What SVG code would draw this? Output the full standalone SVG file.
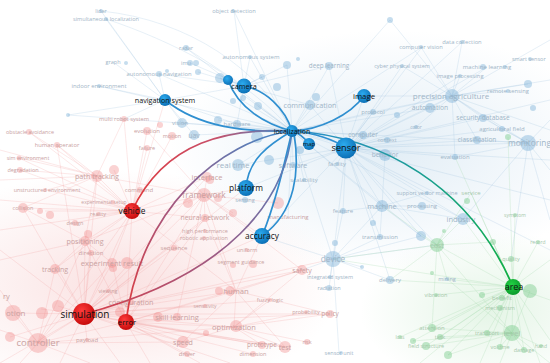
<svg xmlns="http://www.w3.org/2000/svg" width="550" height="363" viewBox="0 0 550 363">
<defs>
<style>
text{font-family:"Open Sans","DejaVu Sans",sans-serif;text-anchor:middle}
.lr{fill:none;stroke:#f2a2a2;stroke-width:.5;stroke-opacity:.5}
.lb{fill:none;stroke:#9fc4de;stroke-width:.5;stroke-opacity:.5}
.lg{fill:none;stroke:#a6dab0;stroke-width:.5;stroke-opacity:.55}
.nr circle{fill:#f07a7a;fill-opacity:.33}
.nb circle{fill:#6aa6d2;fill-opacity:.38}
.ng circle{fill:#70c982;fill-opacity:.42}
.nr text{fill:#c9a2a2}
.nb text{fill:#9fb5c7}
.ng text{fill:#a6c8ab}
.hb{fill:url(#gB)}
.hr{fill:url(#gR)}
.hg{fill:url(#gG)}
.main text{fill:#111}
.eb{fill:none;stroke:#2f8fd0;stroke-width:1.7}
</style>
<radialGradient id="gB" cx=".4" cy=".35" r=".7"><stop offset="0" stop-color="#2cabef"/><stop offset="1" stop-color="#0a6cb2"/></radialGradient>
<radialGradient id="gR" cx=".4" cy=".35" r=".7"><stop offset="0" stop-color="#ff3c3c"/><stop offset="1" stop-color="#c30808"/></radialGradient>
<radialGradient id="gG" cx=".4" cy=".35" r=".7"><stop offset="0" stop-color="#22d244"/><stop offset="1" stop-color="#08972a"/></radialGradient>
<radialGradient id="tP"><stop offset="0" stop-color="#f6c9c9" stop-opacity=".55"/><stop offset="1" stop-color="#f6c9c9" stop-opacity="0"/></radialGradient>
<radialGradient id="tB"><stop offset="0" stop-color="#cfe2f0" stop-opacity=".6"/><stop offset="1" stop-color="#cfe2f0" stop-opacity="0"/></radialGradient>
<radialGradient id="tG"><stop offset="0" stop-color="#d3eed6" stop-opacity=".6"/><stop offset="1" stop-color="#d3eed6" stop-opacity="0"/></radialGradient>
<linearGradient id="eVeh" gradientUnits="userSpaceOnUse" x1="132" y1="211" x2="292" y2="131"><stop offset="0" stop-color="#e03a3c"/><stop offset=".6" stop-color="#c8506a"/><stop offset="1" stop-color="#3d8acb"/></linearGradient>
<linearGradient id="eErr" gradientUnits="userSpaceOnUse" x1="126" y1="322" x2="292" y2="131"><stop offset="0" stop-color="#e03a3c"/><stop offset=".5" stop-color="#a05a84"/><stop offset="1" stop-color="#3d8acb"/></linearGradient>
<linearGradient id="eSim" gradientUnits="userSpaceOnUse" x1="84" y1="314" x2="292" y2="131"><stop offset="0" stop-color="#d8404a"/><stop offset=".5" stop-color="#9c5a84"/><stop offset="1" stop-color="#4a84c4"/></linearGradient>
<linearGradient id="eArea" gradientUnits="userSpaceOnUse" x1="292" y1="131" x2="513" y2="287"><stop offset="0" stop-color="#2c8dcd"/><stop offset=".5" stop-color="#1a9f90"/><stop offset="1" stop-color="#10b040"/></linearGradient>
</defs>
<rect width="550" height="363" fill="#fff"/>
<g id="tints">
<ellipse cx="120" cy="285" rx="220" ry="115" fill="url(#tP)"/>
<ellipse cx="390" cy="150" rx="220" ry="120" fill="url(#tB)"/>
<ellipse cx="490" cy="310" rx="130" ry="80" fill="url(#tG)"/>
</g>
<g id="background-links">
<path class="lr" d="M84 314L38 343M84 314L126 322M84 314L132 211M84 314L97 176M84 314L85 241M84 314L112 263M84 314L55 269M84 314L236 291M84 314L234 327M84 314L183 342M84 314L285 347M84 314L302 270M84 314L13 313M84 314L131 302M84 314L177 317M84 314L262 345M84 314L204 195M84 314L205 218M84 314L0 363M84 314L0 250M84 314L120 363M84 314L60 363M84 314L230 363M84 314L330 314M84 314L207 177M84 314L23 208M84 314L57 145M84 314L246 188M84 314L262 236M84 314L333 259M84 314L41 309M84 314L58 306M84 314L10 337M84 314L87 340M84 314L108 291M84 314L174 248M84 314L91 253M84 314L205 306M84 314L270 300
M38 343L126 322M38 343L85 241M38 343L55 269M38 343L0 290M38 343L0 330M38 343L13 313M38 343L112 263M38 343L183 342M38 343L132 211M38 343L234 327M38 343L90 363M38 343L20 363
M126 322L132 211M126 322L236 291M126 322L234 327M126 322L183 342M126 322L85 241M126 322L112 263M126 322L177 317M126 322L285 347M126 322L302 270M126 322L204 195M126 322L205 218M126 322L262 345M126 322L150 363M126 322L200 363M126 322L253 354M126 322L187 354M126 322L330 314
M132 211L97 176M132 211L114 170M132 211L57 145M132 211L29 132M132 211L124 119M132 211L147 131M132 211L172 136M132 211L23 208M132 211L20 170M132 211L19 158M132 211L85 241M132 211L55 269M132 211L204 195M132 211L205 218M132 211L207 177M132 211L112 263M132 211L140 190M132 211L104 202M132 211L75 223M132 211L236 291M132 211L165 100M132 211L47 190M132 211L98 214M132 211L45 211M132 211L147 148M132 211L0 200M132 211L0 230
M204 195L205 218M204 195L207 177M204 195L236 291M204 195L85 241M204 195L97 176M204 195L246 188M204 195L262 236M204 195L302 270M204 195L177 317M204 195L278 203M204 195L233 213M204 195L188 203M204 195L147 131
M234 327L285 347M234 327L302 270M234 327L330 314M234 327L262 345M234 327L183 342M234 327L236 291M234 327L270 300M234 327L306 312M234 327L307 342
M97 176L29 132M97 176L57 145M97 176L20 170M97 176L19 158M97 176L124 119M97 176L85 241M97 176L47 190M97 176L23 208M97 176L0 180M97 176L0 150
M236 291L302 270M236 291L285 347M236 291L262 236M236 291L205 218M236 291L183 342M236 291L330 314M85 241L55 269M85 241L112 263M85 241L23 208M85 241L0 260M85 241L91 253"/>
<path class="lb" d="M292 131L346 148M292 131L333 259M292 131L382 206M292 131L463 219M292 131L452 96M292 131L430 108M292 131L310 105M292 131L329 66M292 131L390 20M292 131L422 47M292 131L237 124M292 131L238 165M292 131L182 123M292 131L194 135M292 131L159 74M292 131L186 48M292 131L99 86M292 131L234 11M292 131L250 57M292 131L528 143M292 131L385 155M292 131L363 135M292 131L421 236M292 131L293 165M292 131L304 180M292 131L288 217M292 131L373 112M292 131L287 65M292 131L220 78M292 131L258 106M292 131L240 99M292 131L218 120M292 131L68 115
M346 148L364 96M346 148L452 96M346 148L430 108M346 148L528 143M346 148L483 118M346 148L502 129M346 148L463 219M346 148L382 206M346 148L421 236M346 148L333 259M346 148L385 155M346 148L363 135M346 148L455 157M346 148L477 140M346 148L310 105M346 148L329 66M346 148L422 47M346 148L462 42M346 148L487 67M346 148L460 76M346 148L550 100M346 148L550 160M346 148L550 200M346 148L246 188M346 148L262 236M346 148L293 165M346 148L337 164M346 148L343 211M346 148L402 66M346 148L437 245M346 148L380 237M346 148L390 280M346 148L238 165M346 148L373 112M346 148L416 127M346 148L550 250M346 148L427 193
M452 96L430 108M452 96L483 118M452 96L502 129M452 96L528 143M452 96L460 76M452 96L487 67M452 96L508 91M452 96L528 84M452 96L550 80M452 96L550 130M452 96L477 140M452 96L455 157M452 96L462 42M452 96L421 47M452 96L390 20M452 96L364 96M452 96L402 66M452 96L373 112M452 96L416 127M452 96L550 40
M528 143L550 120M528 143L550 170M528 143L502 129M528 143L483 118M528 143L477 140M528 143L463 219M528 143L511 259M528 143L455 157M528 143L550 220
M244 86L228 80M244 86L250 57M244 86L262 77M244 86L287 65M244 86L220 78M244 86L186 48M244 86L159 74M244 86L190 63M244 86L165 100M244 86L237 124M244 86L310 105M244 86L329 66M244 86L234 11M244 86L198 72
M165 100L99 86M165 100L159 74M165 100L182 123M165 100L194 135M165 100L237 124M165 100L124 119M165 100L106 19M165 100L101 11M165 100L68 115M165 100L113 62
M333 259L382 206M333 259L380 237M333 259L390 280M333 259L329 288M333 259L330 277M333 259L302 270M333 259L262 236M333 259L421 236M333 259L437 245M333 259L339 353M333 259L343 211M333 259L362 267
M382 206L422 206M382 206L463 219M382 206L421 236M382 206L343 211M382 206L427 193M382 206L380 237M382 206L385 155
M106 19C170 40 250 80 292 131M101 11C190 20 260 70 292 131"/>
<path class="lg" d="M513 287L512 333M513 287L530 291M513 287L502 298M513 287L500 308M513 287L487 333M513 287L432 328M513 287L440 337M513 287L426 346M513 287L524 350M513 287L500 347M513 287L511 259M513 287L493 242M513 287L538 242M513 287L515 215M513 287L437 245M513 287L447 279M513 287L436 295M513 287L390 280M513 287L550 260M513 287L550 300M513 287L550 340M513 287L540 363M513 287L480 363M513 287L420 363M513 287L463 219M513 287L471 193M513 287L333 259M513 287L400 337M513 287L455 157M513 287L508 137M513 287L413 341M513 287L448 355M513 287L482 295
M512 333L487 333M512 333L500 347M512 333L524 350M512 333L541 346M512 333L432 328M512 333L440 337M512 333L426 346M512 333L530 291M512 333L550 363M512 333L500 363M512 333L437 245M512 333L447 279M512 333L413 341M512 333L448 355
M437 245L463 219M437 245L421 236M437 245L447 279M437 245L390 280M437 245L432 328M437 245L471 193M437 245L382 206M437 245L333 259M437 245L444 231M437 245L493 242"/>
</g>
<g id="background-nodes">
<g id="n-controller" class="nr"><circle cx="38" cy="343" r="10"/><text x="38" y="346.3" font-size="9.5">controller</text></g>
<g id="n-path-tracking" class="nr"><circle cx="97" cy="176" r="6"/><circle cx="114" cy="170" r="5"/><text x="97" y="178.5" font-size="7.2">path tracking</text></g>
<g id="n-framework" class="nr"><circle cx="204" cy="195" r="7"/><circle cx="188" cy="203" r="5"/><circle cx="218" cy="198" r="4"/><circle cx="233" cy="213" r="4"/><circle cx="210" cy="180" r="4"/><text x="204" y="198" font-size="8.5">framework</text></g>
<g id="n-neural-network" class="nr"><circle cx="205" cy="218" r="4"/><text x="205" y="220.4" font-size="6.9">neural network</text></g>
<g id="n-positioning" class="nr"><circle cx="85" cy="241" r="5"/><circle cx="88" cy="234" r="4"/><text x="85" y="243.5" font-size="7.2">positioning</text></g>
<g id="n-experiment-result" class="nr"><circle cx="112" cy="263" r="5"/><circle cx="127" cy="263" r="6"/><circle cx="113" cy="268" r="4"/><text x="112" y="265.6" font-size="7.5">experiment result</text></g>
<g id="n-tracking" class="nr"><circle cx="55" cy="269" r="5"/><text x="55" y="271.5" font-size="7">tracking</text></g>
<g id="n-human" class="nr"><circle cx="230" cy="291" r="5"/><circle cx="219" cy="291" r="4"/><text x="236" y="293.7" font-size="7.7">human</text></g>
<g id="n-optimization" class="nr"><circle cx="236" cy="326" r="6"/><circle cx="206" cy="333" r="3"/><text x="234" y="329.6" font-size="7.5">optimization</text></g>
<g id="n-speed" class="nr"><circle cx="183" cy="342" r="6"/><text x="183" y="344.5" font-size="7">speed</text></g>
<g id="n-test" class="nr"><circle cx="285" cy="347" r="6"/><text x="285" y="349.5" font-size="7">test</text></g>
<g id="n-safety" class="nr"><circle cx="302" cy="270" r="5"/><text x="302" y="272.5" font-size="7">safety</text></g>
<g id="n-policy" class="nr"><circle cx="330" cy="314" r="4"/><text x="330" y="316.3" font-size="6.5">policy</text></g>
<g id="n-configuration" class="nr"><circle cx="131" cy="302" r="3"/><circle cx="120" cy="312" r="5"/><text x="131" y="304.5" font-size="7.2">configuration</text></g>
<g id="n-skill-learning" class="nr"><circle cx="177" cy="317" r="4"/><circle cx="158" cy="317" r="5"/><text x="177" y="319.6" font-size="7.5">skill learning</text></g>
<g id="n-prototype" class="nr"><circle cx="262" cy="345" r="4"/><text x="262" y="347.3" font-size="6.5">prototype</text></g>
<g id="n-interface" class="nr"><circle cx="207" cy="177" r="5"/><text x="207" y="179.6" font-size="7.5">interface</text></g>
<g id="n-otion" class="nr"><circle cx="13" cy="313" r="8"/><circle cx="42" cy="313" r="6"/><circle cx="58" cy="306" r="6"/><circle cx="10" cy="337" r="5"/><text x="6" y="316" font-size="8" style="text-anchor:start">otion</text></g>
<g id="n-ry" class="nr"><text x="3" y="298.6" font-size="7.5" style="text-anchor:start">ry</text></g>
<g id="n-multi-robot-system" class="nr"><circle cx="124" cy="119" r="3"/><text x="124" y="121" font-size="5.7">multi robot system</text></g>
<g id="n-obstacle-avoidance" class="nr"><circle cx="29" cy="132" r="3"/><text x="30" y="134" font-size="5.4">obstacle avoidance</text></g>
<g id="n-evolution" class="nr"><circle cx="147" cy="131" r="4"/><circle cx="160" cy="125" r="3"/><text x="147" y="133" font-size="6">evolution</text></g>
<g id="n-motion" class="nr"><circle cx="172" cy="136" r="4"/><text x="172" y="138" font-size="5.5">motion</text></g>
<g id="n-human-operator" class="nr"><circle cx="57" cy="145" r="3"/><text x="57" y="147" font-size="5.8">human operator</text></g>
<g id="n-failure" class="nr"><circle cx="147" cy="148" r="3"/><text x="147" y="150" font-size="5.5">failure</text></g>
<g id="n-sim-environment" class="nr"><circle cx="19" cy="158" r="2.5"/><text x="28" y="160" font-size="5.4">sim environment</text></g>
<g id="n-degradation" class="nr"><circle cx="20" cy="170" r="3"/><text x="23" y="172" font-size="5.5">degradation</text></g>
<g id="n-unstructured-environment" class="nr"><circle cx="45" cy="190" r="2"/><text x="47" y="192" font-size="5.4">unstructured environment</text></g>
<g id="n-command" class="nr"><circle cx="140" cy="190" r="3"/><text x="139" y="192" font-size="6">command</text></g>
<g id="n-experimental-setup" class="nr"><circle cx="113" cy="202" r="2"/><text x="104" y="204" font-size="5">experimental setup</text></g>
<g id="n-collision" class="nr"><circle cx="23" cy="208" r="5"/><circle cx="40" cy="211" r="3"/><circle cx="50" cy="215" r="4"/><text x="23" y="210" font-size="5.5">collision</text></g>
<g id="n-reality" class="nr"><circle cx="98" cy="214" r="2"/><text x="98" y="216" font-size="5.5">reality</text></g>
<g id="n-design" class="nr"><circle cx="75" cy="223" r="3"/><text x="75" y="225" font-size="5.5">design</text></g>
<g id="n-sequence" class="nr"><circle cx="174" cy="248" r="3"/><text x="174" y="250" font-size="6">sequence</text></g>
<g id="n-direction" class="nr"><circle cx="91" cy="253" r="3"/><text x="91" y="255" font-size="6">direction</text></g>
<g id="n-high-performance" class="nr"><circle cx="205" cy="231" r="2"/><text x="205" y="233" font-size="5.5">high performance</text></g>
<g id="n-robotic-application" class="nr"><circle cx="204" cy="238" r="2"/><text x="204" y="240" font-size="5.5">robotic application</text></g>
<g id="n-viewing" class="nr"><circle cx="108" cy="291" r="2"/><text x="108" y="293" font-size="5.5">viewing</text></g>
<g id="n-sensitivity" class="nr"><circle cx="205" cy="306" r="2"/><text x="205" y="308" font-size="5">sensitivity</text></g>
<g id="n-payload" class="nr"><circle cx="87" cy="340" r="2"/><text x="87" y="342" font-size="6">payload</text></g>
<g id="n-driver" class="nr"><circle cx="187" cy="354" r="3"/><text x="187" y="356" font-size="6">driver</text></g>
<g id="n-dimension" class="nr"><circle cx="253" cy="354" r="3"/><text x="253" y="356" font-size="5.5">dimension</text></g>
<g id="n-uniform" class="nr"><circle cx="247" cy="250" r="2"/><text x="247" y="252" font-size="5.5">uniform</text></g>
<g id="n-segment-guidance" class="nr"><circle cx="253" cy="264" r="4"/><circle cx="233" cy="265" r="3"/><text x="241" y="264" font-size="5.5">segment guidance</text></g>
<g id="n-manufacturing" class="nr"><circle cx="278" cy="203" r="6"/><text x="288" y="219" font-size="6">manufacturing</text></g>
<g id="n-fuzzy-logic" class="nr"><circle cx="270" cy="300" r="2"/><text x="270" y="302" font-size="5.5">fuzzy logic</text></g>
<g id="n-probability" class="nr"><circle cx="306" cy="312" r="2"/><text x="306" y="314" font-size="5.5">probability</text></g>
<g id="n-risk" class="nr"><circle cx="307" cy="342" r="3"/><text x="307" y="344" font-size="5.5">risk</text></g>
<g id="n-communication" class="nb"><circle cx="310" cy="105" r="5"/><circle cx="316" cy="97" r="4"/><text x="310" y="107.5" font-size="7.3">communication</text></g>
<g id="n-deep-learning" class="nb"><circle cx="329" cy="66" r="4"/><circle cx="287" cy="65" r="4"/><circle cx="298" cy="59" r="2"/><text x="329" y="68.2" font-size="6.3">deep learning</text></g>
<g id="n-precision-agriculture" class="nb"><circle cx="452" cy="96" r="7"/><text x="451" y="98.8" font-size="8">precision agriculture</text></g>
<g id="n-automation" class="nb"><circle cx="430" cy="108" r="5"/><text x="430" y="110.3" font-size="6.7">automation</text></g>
<g id="n-monitoring" class="nb"><circle cx="528" cy="143" r="8"/><text x="508" y="146" font-size="8.3" style="text-anchor:start">monitoring</text></g>
<g id="n-machine" class="nb"><circle cx="382" cy="206" r="6"/><text x="382" y="208.6" font-size="7.4">machine</text></g>
<g id="n-processing" class="nb"><circle cx="422" cy="206" r="4"/><text x="422" y="208" font-size="6">processing</text></g>
<g id="n-industry" class="nb"><circle cx="463" cy="219" r="6"/><text x="461" y="221.6" font-size="7.5">industry</text></g>
<g id="n-device" class="nb"><circle cx="333" cy="259" r="8"/><text x="333" y="261.9" font-size="8.2">device</text></g>
<g id="n-hardware" class="nb"><circle cx="237" cy="124" r="4"/><text x="237" y="126" font-size="6">hardware</text></g>
<g id="n-real-time" class="nb"><circle cx="238" cy="165" r="6"/><text x="233" y="167.8" font-size="8">real time</text></g>
<g id="n-software" class="nb"><circle cx="293" cy="165" r="3"/><text x="293" y="167.5" font-size="7">software</text></g>
<g id="n-scalability" class="nb"><circle cx="304" cy="180" r="2"/><text x="304" y="182" font-size="6">scalability</text></g>
<g id="n-uav" class="nb"><circle cx="194" cy="135" r="5"/><text x="194" y="137.5" font-size="7">uav</text></g>
<g id="n-vision" class="nb"><circle cx="182" cy="123" r="5"/><text x="180" y="125" font-size="6">vision</text></g>
<g id="n-sensing" class="nb"><circle cx="245" cy="200" r="3"/><text x="245" y="202" font-size="5.5">sensing</text></g>
<g id="n-simultaneous-localization" class="nb"><circle cx="106" cy="19" r="2"/><text x="106" y="21" font-size="5.6">simultaneous localization</text></g>
<g id="n-lidar" class="nb"><circle cx="101" cy="11" r="2"/><text x="101" y="13" font-size="5.5">lidar</text></g>
<g id="n-object-detection" class="nb"><circle cx="233" cy="11" r="2"/><text x="234" y="13" font-size="5.8">object detection</text></g>
<g id="n-radar" class="nb"><circle cx="186" cy="48" r="3"/><text x="186" y="50" font-size="5.5">radar</text></g>
<g id="n-graph" class="nb"><circle cx="126" cy="63" r="2"/><text x="113" y="64" font-size="5.5">graph</text></g>
<g id="n-imu" class="nb"><circle cx="190" cy="63" r="3"/><circle cx="196" cy="63" r="3"/><circle cx="198" cy="72" r="3"/><text x="186" y="65" font-size="5.5">imu</text></g>
<g id="n-autonomous-navigation" class="nb"><circle cx="159" cy="74" r="3"/><circle cx="167" cy="71" r="2"/><text x="159" y="76" font-size="5.9">autonomous navigation</text></g>
<g id="n-autonomous-system" class="nb"><circle cx="250" cy="57" r="2"/><text x="251" y="59" font-size="6">autonomous system</text></g>
<g id="n-indoor-environment" class="nb"><circle cx="99" cy="86" r="2"/><text x="99" y="88" font-size="5.9">indoor environment</text></g>
<g id="n-misc-blue" class="nb"><circle cx="68" cy="115" r="2"/><circle cx="220" cy="78" r="5"/><circle cx="243" cy="98" r="3"/><circle cx="233" cy="101" r="3"/><circle cx="218" cy="120" r="4"/><circle cx="258" cy="106" r="4"/><circle cx="262" cy="77" r="3"/><circle cx="257" cy="137" r="6"/><circle cx="277" cy="87" r="4"/><circle cx="390" cy="20" r="3"/><circle cx="528" cy="84" r="4"/><circle cx="533" cy="108" r="3"/><circle cx="421" cy="236" r="5"/><circle cx="335" cy="243" r="3"/><circle cx="373" cy="223" r="3"/><circle cx="362" cy="267" r="2"/><circle cx="397" cy="115" r="3"/><circle cx="269" cy="160" r="5"/><circle cx="300" cy="150" r="4"/></g>
<g id="n-data-collection" class="nb"><circle cx="462" cy="42" r="2"/><text x="462" y="44" font-size="5.8">data collection</text></g>
<g id="n-computer-vision" class="nb"><circle cx="421" cy="47" r="2"/><text x="421" y="49" font-size="5.8">computer vision</text></g>
<g id="n-cyber-physical-system" class="nb"><circle cx="402" cy="66" r="2"/><text x="402" y="68" font-size="5.5">cyber physical system</text></g>
<g id="n-machine-learning" class="nb"><circle cx="483" cy="67" r="3"/><circle cx="505" cy="67" r="2"/><text x="487" y="69" font-size="6">machine learning</text></g>
<g id="n-image-processing" class="nb"><circle cx="460" cy="76" r="2"/><text x="460" y="78" font-size="5.8">image processing</text></g>
<g id="n-remote-sensing" class="nb"><circle cx="508" cy="91" r="2"/><text x="508" y="93" font-size="5.8">remote sensing</text></g>
<g id="n-smart-sensor" class="nb"><circle cx="530" cy="59" r="2"/><text x="512" y="61" font-size="5.5" style="text-anchor:start">smart sensor</text></g>
<g id="n-protocol" class="nb"><circle cx="373" cy="112" r="3"/><text x="373" y="114" font-size="6">protocol</text></g>
<g id="n-security-database" class="nb"><circle cx="483" cy="118" r="4"/><text x="483" y="120.3" font-size="6.5">security database</text></g>
<g id="n-agricultural-field" class="nb"><circle cx="502" cy="129" r="3"/><text x="502" y="131" font-size="6">agricultural field</text></g>
<g id="n-classification" class="nb"><circle cx="477" cy="140" r="4"/><text x="477" y="142.3" font-size="6.5">classification</text></g>
<g id="n-color" class="nb"><circle cx="416" cy="127" r="2"/><text x="416" y="129" font-size="5">color</text></g>
<g id="n-computer" class="nb"><circle cx="363" cy="135" r="4"/><text x="363" y="137.3" font-size="6.5">computer</text></g>
<g id="n-context" class="nb"><circle cx="387" cy="140" r="3"/><text x="387" y="142" font-size="5.5">context</text></g>
<g id="n-behavior" class="nb"><circle cx="385" cy="155" r="6"/><text x="385" y="157.3" font-size="6.5">behavior</text></g>
<g id="n-evaluation" class="nb"><circle cx="455" cy="157" r="3"/><text x="455" y="159" font-size="6">evaluation</text></g>
<g id="n-facility" class="nb"><circle cx="337" cy="164" r="2"/><text x="337" y="166" font-size="6">facility</text></g>
<g id="n-support-vector-machine" class="nb"><circle cx="427" cy="193" r="2"/><text x="427" y="195" font-size="5.5">support vector machine</text></g>
<g id="n-feature" class="nb"><circle cx="343" cy="211" r="3"/><text x="343" y="213" font-size="6">feature</text></g>
<g id="n-transmission" class="nb"><circle cx="380" cy="237" r="3"/><text x="380" y="239" font-size="6">transmission</text></g>
<g id="n-delivery" class="nb"><circle cx="390" cy="280" r="4"/><text x="390" y="282" font-size="6">delivery</text></g>
<g id="n-integrated-system" class="nb"><circle cx="330" cy="277" r="2"/><text x="330" y="279" font-size="5.5">integrated system</text></g>
<g id="n-radiation" class="nb"><circle cx="329" cy="288" r="3"/><text x="329" y="290" font-size="5.5">radiation</text></g>
<g id="n-sensor-unit" class="nb"><circle cx="341" cy="353" r="2"/><text x="339" y="355" font-size="5.5">sensor unit</text></g>
<g id="n-mining" class="nb"><circle cx="447" cy="279" r="2"/><text x="447" y="281" font-size="5.5">mining</text></g>
<g id="n-cost" class="ng"><circle cx="437" cy="245" r="7"/><text x="437" y="247.5" font-size="7">cost</text></g>
<g id="n-level" class="ng"><circle cx="512" cy="333" r="8"/><text x="512" y="335.8" font-size="8">level</text></g>
<g id="n-benefit" class="ng"><circle cx="502" cy="298" r="3"/><text x="502" y="300" font-size="6">benefit</text></g>
<g id="n-mechanism" class="ng"><circle cx="500" cy="308" r="3"/><text x="500" y="310" font-size="5.5">mechanism</text></g>
<g id="n-transport" class="ng"><circle cx="487" cy="333" r="3"/><text x="487" y="335" font-size="5.5">transport</text></g>
<g id="n-attention" class="ng"><circle cx="432" cy="328" r="4"/><text x="432" y="330" font-size="6">attention</text></g>
<g id="n-task" class="ng"><circle cx="440" cy="337" r="3"/><text x="440" y="339" font-size="5.5">task</text></g>
<g id="n-loss" class="ng"><circle cx="400" cy="337" r="2"/><text x="400" y="339" font-size="5">loss</text></g>
<g id="n-field-structure" class="ng"><circle cx="426" cy="346" r="4"/><text x="426" y="348" font-size="5.5">field structure</text></g>
<g id="n-volume" class="ng"><circle cx="500" cy="347" r="3"/><text x="500" y="349" font-size="5.5">volume</text></g>
<g id="n-damage" class="ng"><circle cx="524" cy="350" r="3"/><text x="524" y="352" font-size="5.5">damage</text></g>
<g id="n-hand" class="ng"><circle cx="541" cy="346" r="2"/><text x="541" y="348" font-size="5">hand</text></g>
<g id="n-symptom" class="ng"><circle cx="515" cy="215" r="2"/><text x="515" y="217" font-size="5">symptom</text></g>
<g id="n-quality" class="ng"><circle cx="511" cy="259" r="3"/><text x="511" y="261" font-size="5.5">quality</text></g>
<g id="n-record" class="ng"><circle cx="538" cy="242" r="2"/><text x="538" y="244" font-size="5">record</text></g>
<g id="n-vibration" class="ng"><circle cx="436" cy="295" r="2"/><text x="436" y="297" font-size="5.5">vibration</text></g>
<g id="n-service" class="ng"><circle cx="467" cy="201" r="3"/><text x="471" y="195" font-size="6">service</text></g>
<g id="n-misc-green" class="ng"><circle cx="530" cy="291" r="7"/><circle cx="493" cy="242" r="3"/><circle cx="444" cy="231" r="2"/><circle cx="432" cy="273" r="2"/><circle cx="482" cy="295" r="3"/><circle cx="413" cy="341" r="3"/><circle cx="448" cy="355" r="4"/><circle cx="508" cy="137" r="3"/></g>
</g>
<g id="connectors">
<path class="eb" d="M292 131C245 132 200 128 165 100"/>
<path class="eb" d="M292 131C265 124 238 108 228 80"/>
<path class="eb" d="M292 131C285 108 265 90 244 86"/>
<path class="eb" d="M292 131C320 130 350 115 364 96"/>
<path class="eb" d="M292 131Q302 134 309 144"/>
<path class="eb" d="M292 131C315 133 335 140 346 148"/>
<path class="eb" d="M292 131C268 145 248 160 246 188"/>
<path class="eb" d="M292 131C284 165 275 205 262 236"/>
<path class="eb" d="M294 133C300 170 296 212 262 236"/>
<path fill="none" stroke="url(#eArea)" stroke-width="1.7" d="M292 131C380 136 470 185 513 287"/>
<path fill="none" stroke="url(#eVeh)" stroke-width="1.7" d="M292 131C230 128 165 140 132 211"/>
<path fill="none" stroke="url(#eErr)" stroke-width="1.7" d="M292 131C220 140 140 210 126 322"/>
<path fill="none" stroke="url(#eSim)" stroke-width="1.7" d="M292 131C285 200 230 275 84 314"/>
</g>
<g class="main">
<g id="node-camera-small"><circle class="hb" cx="228" cy="80" r="5"/></g>
<g id="node-camera"><circle class="hb" cx="244" cy="86" r="7.5"/><text x="244" y="88.6" font-size="7.3">camera</text></g>
<g id="node-navigation-system"><circle class="hb" cx="165" cy="100" r="6"/><text x="165" y="102.5" font-size="7.2">navigation system</text></g>
<g id="node-image"><circle class="hb" cx="364" cy="96" r="7"/><text x="364" y="98.7" font-size="7.8">image</text></g>
<g id="node-localization"><circle class="hb" cx="292" cy="131" r="6"/><text x="292" y="133.5" font-size="7">localization</text></g>
<g id="node-map"><circle class="hb" cx="309" cy="144" r="6"/><text x="309" y="146.2" font-size="6">map</text></g>
<g id="node-sensor"><circle class="hb" cx="346" cy="148" r="10.5"/><text x="346" y="151.3" font-size="9.2">sensor</text></g>
<g id="node-platform"><circle class="hb" cx="246" cy="188" r="8"/><text x="246" y="191" font-size="8.4">platform</text></g>
<g id="node-accuracy"><circle class="hb" cx="262" cy="236" r="8"/><text x="262" y="239" font-size="8.3">accuracy</text></g>
<g id="node-vehicle"><circle class="hr" cx="132" cy="211" r="8"/><text x="132" y="214" font-size="8.4">vehicle</text></g>
<g id="node-simulation"><circle class="hr" cx="84" cy="314" r="11"/><text x="85" y="317.5" font-size="10">simulation</text></g>
<g id="node-error"><circle class="hr" cx="126" cy="322" r="8"/><text x="127" y="324.7" font-size="7.7">error</text></g>
<g id="node-area"><circle class="hg" cx="513" cy="287" r="8"/><text x="514" y="290.2" font-size="9">area</text></g>
</g>
</svg>
